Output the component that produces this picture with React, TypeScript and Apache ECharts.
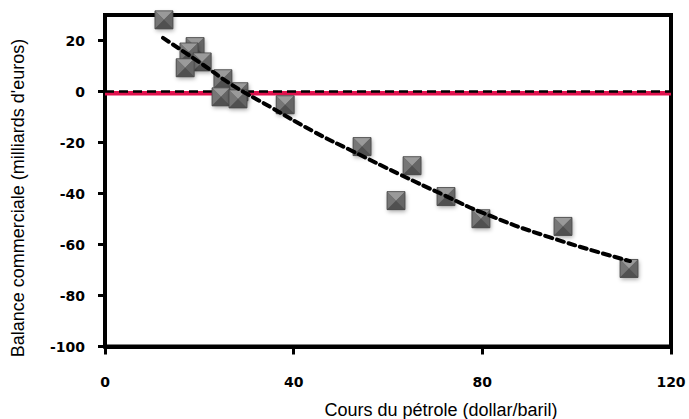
import React, { useEffect, useRef } from "react";
import * as echarts from "echarts";

// Oil price (dollar/barrel) vs trade balance (billion euros)
const oilPrice = [12.5, 19.1, 17.8, 20.6, 17.0, 25.0, 24.6, 28.4, 28.2, 38.2, 54.5, 65.1, 61.7, 72.3, 79.7, 97.1, 111.1];
const tradeBalance = [28.1, 17.6, 15.5, 11.6, 9.3, 5.0, -2.1, -0.1, -2.9, -5.2, -21.6, -29.1, -42.8, -41.2, -49.9, -52.9, -69.4];

// Polynomial trend line
const trendX = [12.3, 20, 27, 35, 44, 52.6, 62.5, 71.7, 80, 94, 111.3];
const trendY = [21, 11.5, 2.5, -6, -15.5, -23.5, -32.5, -40.5, -47.5, -57, -66.5];

const yTicks = [-100, -80, -60, -40, -20, 0, 20];
const xTicks = [0, 40, 80, 120];

const redLevel = -0.7;

export default function App() {
  const ref = useRef<HTMLDivElement>(null);
  useEffect(() => {
    if (!ref.current) return;
    const chart = echarts.init(ref.current, null, { renderer: "svg" });
    const points = oilPrice.map((x, i) => [x, tradeBalance[i]]);
    const trend = trendX.map((x, i) => [x, trendY[i]]);
    const labelFont = {
      fontFamily: "DejaVu Sans",
      fontWeight: "bold" as const,
      fontSize: 14,
      color: "#000",
    };
    chart.setOption({
      animation: false,
      grid: {
        left: 105,
        right: 18,
        top: 15,
        bottom: 72.5,
        show: true,
        borderColor: "#000",
        borderWidth: 4,
      },
      xAxis: {
        type: "value",
        min: 0,
        max: 120,
        interval: 40,
        splitLine: { show: false },
        axisLine: { onZero: false, lineStyle: { color: "#000", width: 4 } },
        axisTick: { show: true, length: 8, lineStyle: { color: "#000", width: 3 }, customValues: xTicks },
        axisLabel: { ...labelFont, margin: 28, customValues: xTicks },
      },
      yAxis: {
        type: "value",
        min: -100,
        max: 30,
        interval: 20,
        splitLine: { show: false },
        axisLine: { onZero: false, lineStyle: { color: "#000", width: 4 } },
        axisTick: { show: true, length: 7, lineStyle: { color: "#000", width: 3 }, customValues: yTicks },
        axisLabel: { ...labelFont, margin: 20, customValues: yTicks },
      },
      graphic: [
        {
          type: "text",
          x: 441,
          y: 410,
          style: {
            text: "Cours du pétrole (dollar/baril)",
            font: "18px 'Liberation Sans', Arial, sans-serif",
            fill: "#000",
            textAlign: "center",
            textVerticalAlign: "middle",
          },
        },
        {
          type: "text",
          x: 18,
          y: 198,
          rotation: Math.PI / 2,
          style: {
            text: "Balance commerciale (milliards d'euros)",
            font: "18px 'Liberation Sans', Arial, sans-serif",
            fill: "#000",
            textAlign: "center",
            textVerticalAlign: "middle",
          },
        },
      ],
      series: [
        {
          type: "line",
          data: [
            [0, redLevel],
            [120, redLevel],
          ],
          symbol: "none",
          lineStyle: { color: "#e2124e", width: 4.5 },
          z: 2,
        },
        {
          type: "line",
          data: [
            [0, 0],
            [121.6, 0],
          ],
          symbol: "none",
          clip: false,
          lineStyle: { color: "#000", width: 2.5, type: [9, 5] },
          z: 3,
        },
        {
          type: "line",
          data: trend,
          symbol: "none",
          smooth: true,
          lineStyle: { color: "#000", width: 4, type: [7, 5], cap: "round" },
          z: 5,
        },
        {
          type: "custom",
          data: points,
          encode: { x: 0, y: 1 },
          clip: false,
          z: 4,
          renderItem: (params: any, api: any) => {
            const p = api.coord([api.value(0), api.value(1)]);
            const h = 9;
            const cx = p[0];
            const cy = p[1];
            const x0 = cx - h, x1 = cx + h, y0 = cy - h, y1 = cy + h;
            return {
              type: "group",
              children: [
                {
                  type: "rect",
                  shape: { x: x0, y: y0, width: 2 * h, height: 2 * h },
                  style: {
                    fill: "#5e5e5e",
                    shadowBlur: 4,
                    shadowColor: "rgba(0,0,0,0.35)",
                    shadowOffsetX: 1,
                    shadowOffsetY: 2,
                  },
                },
                { type: "polygon", shape: { points: [[x0, y0], [x1, y0], [cx, cy]] }, style: { fill: "#9a9a9a" } },
                { type: "polygon", shape: { points: [[x0, y0], [x0, y1], [cx, cy]] }, style: { fill: "#767676" } },
                { type: "polygon", shape: { points: [[x1, y0], [x1, y1], [cx, cy]] }, style: { fill: "#666666" } },
                { type: "polygon", shape: { points: [[x0, y1], [x1, y1], [cx, cy]] }, style: { fill: "#505050" } },
                {
                  type: "rect",
                  shape: { x: x0, y: y0, width: 2 * h, height: 2 * h },
                  style: { fill: "none", stroke: "#484848", lineWidth: 0.8 },
                },
              ],
            };
          },
        },
      ],
    });
    return () => chart.dispose();
  }, []);
  return (
    <div
      ref={ref}
      style={{ position: "fixed", left: 0, top: 0, width: 689, height: 419, background: "#fff" }}
    />
  );
}
